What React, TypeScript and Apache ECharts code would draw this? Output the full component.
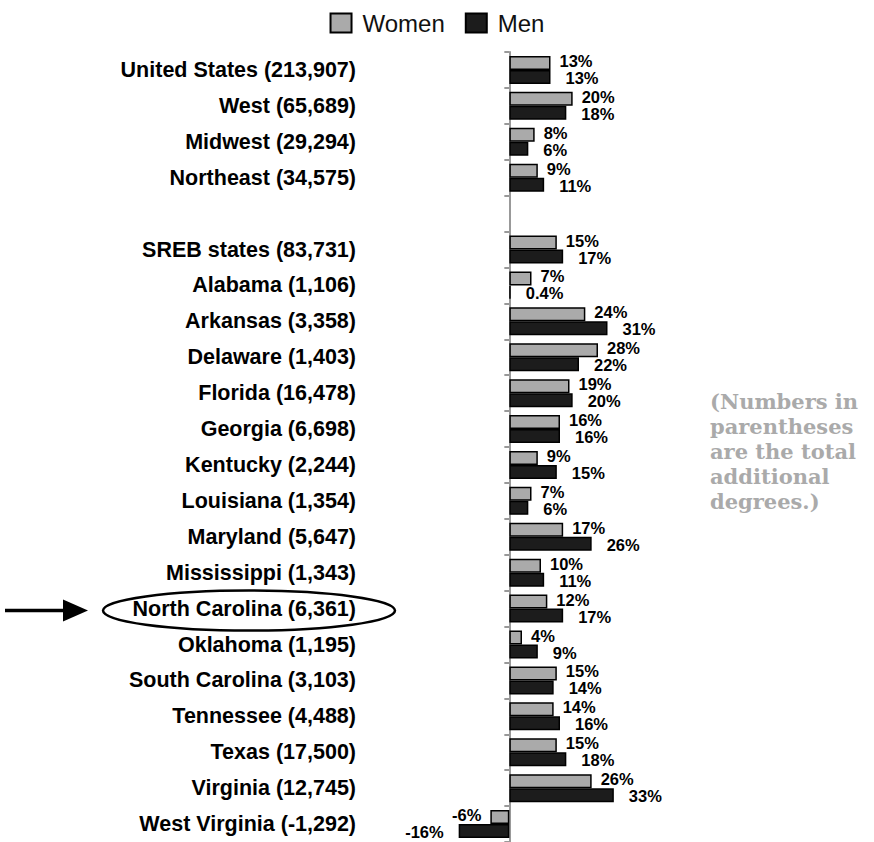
import React, { useEffect, useRef } from "react";
import * as echarts from "echarts";

const categories = [
  "United States (213,907)",
  "West (65,689)",
  "Midwest (29,294)",
  "Northeast (34,575)",
  "",
  "SREB states (83,731)",
  "Alabama (1,106)",
  "Arkansas (3,358)",
  "Delaware (1,403)",
  "Florida (16,478)",
  "Georgia (6,698)",
  "Kentucky (2,244)",
  "Louisiana (1,354)",
  "Maryland (5,647)",
  "Mississippi (1,343)",
  "North Carolina (6,361)",
  "Oklahoma (1,195)",
  "South Carolina (3,103)",
  "Tennessee (4,488)",
  "Texas (17,500)",
  "Virginia (12,745)",
  "West Virginia (-1,292)",
];

const women: (number | null)[] = [13, 20, 8, 9, null, 15, 7, 24, 28, 19, 16, 9, 7, 17, 10, 12, 4, 15, 14, 15, 26, -6];
const men: (number | null)[] = [13, 18, 6, 11, null, 17, 0.4, 31, 22, 20, 16, 15, 6, 26, 11, 17, 9, 14, 16, 18, 33, -16];

const highlighted = "North Carolina (6,361)";
const noteLines = ["(Numbers in", "parentheses", "are the total", "additional", "degrees.)"];

const FONT = "'Liberation Sans', Arial, sans-serif";

function buildData(values: (number | null)[]) {
  return values.map((v) =>
    v === null ? "-" : v < 0 ? { value: v, label: { position: "left" as const } } : v
  );
}

export default function App() {
  const ref = useRef<HTMLDivElement>(null);
  useEffect(() => {
    document.body.style.margin = "0";
    if (!ref.current) return;
    const chart = echarts.init(ref.current, null, { renderer: "svg" });
    const labelBase = {
      show: true,
      position: "right" as const,
      fontFamily: FONT,
      fontWeight: "bold" as const,
      fontSize: 16.5,
      lineHeight: 16,
      color: "#000",
      formatter: (p: any) => (p.value === null || p.value === "-" || p.value === undefined ? "" : `${p.value}%`),
    };
    chart.setOption({
      animation: false,
      legend: {
        top: 6,
        left: "center",
        itemWidth: 21,
        itemHeight: 19,
        itemGap: 20,
        icon: "rect",
        textStyle: { fontFamily: FONT, fontSize: 24, color: "#111", padding: [0, 0, 0, 6] },
        data: ["Women", "Men"],
      },
      grid: { left: 446, right: 48, top: 52, bottom: 0, outerBoundsMode: "none" },
      xAxis: { type: "value", min: -20, max: 100, show: false },
      yAxis: {
        type: "category",
        inverse: true,
        data: categories,
        axisLine: { show: true, lineStyle: { color: "#999", width: 2 } },
        axisTick: { show: true, length: 5, lineStyle: { color: "#999", width: 2 } },
        axisLabel: {
          margin: 90,
          fontFamily: FONT,
          fontWeight: "bold",
          fontSize: 21.5,
          color: "#000",
        },
        splitLine: { show: false },
      },
      series: [
        {
          name: "Women",
          type: "bar",
          barWidth: 14,
          barGap: "0%",
          data: buildData(women),
          itemStyle: { color: "#aaaaaa", borderColor: "#000", borderWidth: 1.5 },
          label: { ...labelBase, distance: 9, offset: [0, -2] },
        },
        {
          name: "Men",
          type: "bar",
          barWidth: 14,
          barGap: "0%",
          data: buildData(men),
          itemStyle: { color: "#1c1c1c", borderColor: "#000", borderWidth: 1.5 },
          label: { ...labelBase, distance: 15, offset: [0, 1] },
        },
      ],
    });

    const y = chart.convertToPixel({ yAxisIndex: 0 }, highlighted) as number;
    chart.setOption({
      graphic: [
        {
          type: "ellipse",
          shape: { cx: 249, cy: y + 2, rx: 146, ry: 20 },
          style: { fill: "none", stroke: "#000", lineWidth: 2.5 },
          silent: true,
        },
        {
          type: "line",
          shape: { x1: 5, y1: y + 2, x2: 66, y2: y + 2 },
          style: { stroke: "#000", lineWidth: 3.5 },
          silent: true,
        },
        {
          type: "polygon",
          shape: { points: [[63, y - 9], [88, y + 2], [63, y + 13]] },
          style: { fill: "#000" },
          silent: true,
        },
        {
          type: "text",
          left: 710,
          top: 389,
          style: {
            text: noteLines.join("\n"),
            fontFamily: "'DejaVu Serif', Georgia, serif",
            fontWeight: "bold",
            fontSize: 21,
            lineHeight: 25,
            fill: "#aaaaaa",
          },
          silent: true,
        },
      ],
    });
    return () => chart.dispose();
  }, []);
  return <div ref={ref} style={{ width: 874, height: 842 }} />;
}
